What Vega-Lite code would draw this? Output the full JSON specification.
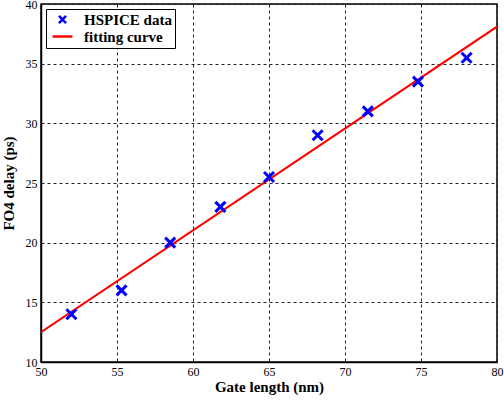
{
  "$schema": "https://vega.github.io/schema/vega-lite/v6.json",
  "width": 456,
  "height": 358,
  "autosize": "none",
  "padding": {"left": 41, "top": 4, "right": 7, "bottom": 44},
  "background": "white",
  "config": {
    "view": {"stroke": "black", "strokeWidth": 1.5},
    "font": "Liberation Serif",
    "axis": {
      "labelFont": "Liberation Serif",
      "labelFontSize": 12,
      "labelColor": "black",
      "labelFlush": false,
      "titleFont": "Liberation Serif",
      "titleFontSize": 15,
      "titleFontWeight": "bold",
      "titleColor": "black",
      "domainColor": "black",
      "domainWidth": 1.5,
      "gridColor": "#222",
      "gridDash": [3, 3],
      "gridOpacity": 1,
      "gridWidth": 1,
      "tickSize": 0,
      "labelPadding": 4
    },
    "legend": {
      "labelFont": "Liberation Serif",
      "labelFontSize": 15,
      "labelFontWeight": "bold",
      "labelColor": "black"
    }
  },
  "data": {
    "values": [
      {"x": 52.0, "y": 14.0, "series": "HSPICE data"},
      {"x": 55.3, "y": 16.0, "series": "HSPICE data"},
      {"x": 58.5, "y": 20.0, "series": "HSPICE data"},
      {"x": 61.8, "y": 23.0, "series": "HSPICE data"},
      {"x": 65.0, "y": 25.5, "series": "HSPICE data"},
      {"x": 68.2, "y": 29.0, "series": "HSPICE data"},
      {"x": 71.5, "y": 31.0, "series": "HSPICE data"},
      {"x": 74.8, "y": 33.5, "series": "HSPICE data"},
      {"x": 78.0, "y": 35.5, "series": "HSPICE data"},
      {"x": 50.0, "y": 12.5, "series": "fitting curve"},
      {"x": 80.0, "y": 38.1, "series": "fitting curve"}
    ]
  },
  "layer": [
    {
      "transform": [{"filter": "datum.series === 'fitting curve'"}],
      "mark": {"type": "line", "strokeWidth": 2, "clip": true},
      "encoding": {
        "x": {"field": "x", "type": "quantitative"},
        "y": {"field": "y", "type": "quantitative"},
        "color": {"field": "series", "type": "nominal"}
      }
    },
    {
      "transform": [{"filter": "datum.series === 'HSPICE data'"}],
      "mark": {"type": "point", "filled": false, "strokeWidth": 3, "size": 100, "opacity": 1},
      "encoding": {
        "x": {"field": "x", "type": "quantitative"},
        "y": {"field": "y", "type": "quantitative"},
        "color": {"field": "series", "type": "nominal"},
        "shape": {"field": "series", "type": "nominal"}
      }
    }
  ],
  "resolve": {"scale": {"color": "shared", "shape": "shared"}},
  "encoding": {
    "x": {
      "field": "x",
      "type": "quantitative",
      "title": "Gate length (nm)",
      "scale": {"domain": [50, 80], "nice": false, "zero": false},
      "axis": {"values": [50, 55, 60, 65, 70, 75, 80], "titlePadding": 2}
    },
    "y": {
      "field": "y",
      "type": "quantitative",
      "title": "FO4 delay (ps)",
      "scale": {"domain": [10, 40], "nice": false, "zero": false},
      "axis": {"values": [10, 15, 20, 25, 30, 35, 40], "titlePadding": 9}
    },
    "color": {
      "field": "series",
      "type": "nominal",
      "scale": {"domain": ["HSPICE data", "fitting curve"], "range": ["#0000ff", "#ff0000"]},
      "legend": {
        "title": null,
        "orient": "top-left",
        "offset": 5,
        "padding": 3,
        "strokeColor": "black",
        "fillColor": "white",
        "symbolStrokeWidth": 2.5,
        "symbolSize": 50,
        "symbolOffset": 6,
        "rowPadding": 0,
        "labelOffset": 14
      }
    },
    "shape": {
      "field": "series",
      "type": "nominal",
      "scale": {"domain": ["HSPICE data", "fitting curve"], "range": ["M-1,-1L1,1M1,-1L-1,1", "M-2.8,0L2.8,0"]},
      "legend": {
        "title": null,
        "orient": "top-left",
        "offset": 5,
        "padding": 3,
        "strokeColor": "black",
        "fillColor": "white",
        "symbolStrokeWidth": 2.5,
        "symbolSize": 50,
        "symbolOffset": 6,
        "rowPadding": 0,
        "labelOffset": 14
      }
    }
  }
}
